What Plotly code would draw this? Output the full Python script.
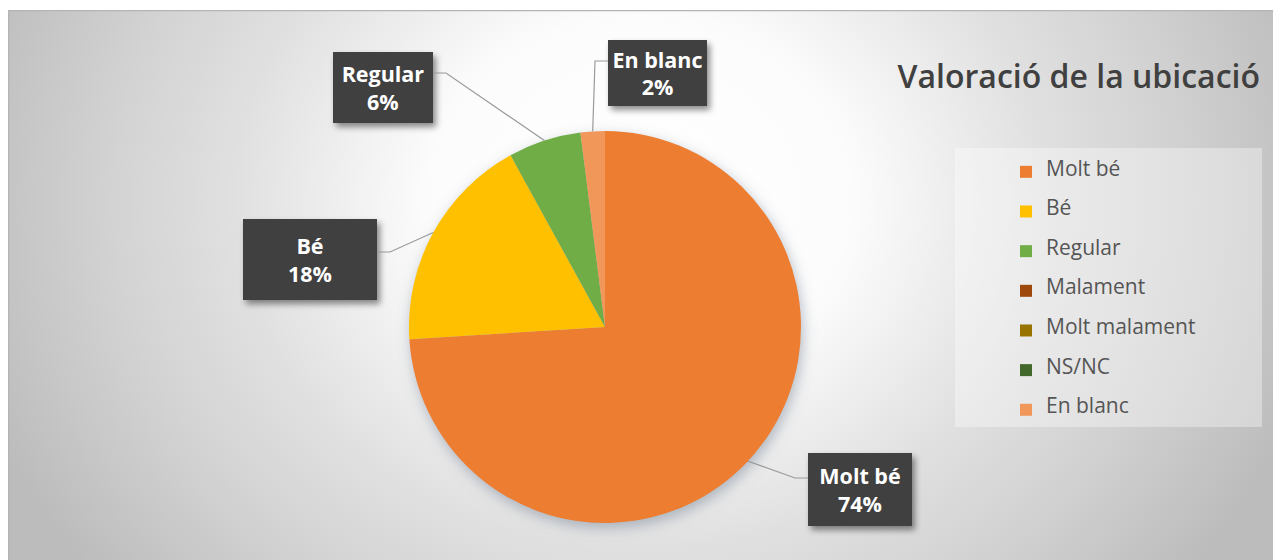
import base64
import math
import plotly.graph_objects as go

# ---------------- data ----------------
categories = ["Molt bé", "Bé", "Regular", "Malament", "Molt malament", "NS/NC", "En blanc"]
values = [74, 18, 6, 0, 0, 0, 2]
colors = ["#ED7D31", "#FFC000", "#70AD47", "#9E480E", "#997300", "#43682B", "#F1975A"]
title_text = "Valoració de la ubicació"

# ---------------- layout constants (screen pixels) ----------------
W, H = 1281, 560
OFF = 8  # page body margin
PIE_CX, PIE_CY, PIE_R = 605, 327, 196
# label boxes: category -> (center x, center y, width, height, side, attach y)
label_boxes = {
    "Molt bé": (860, 489.5, 104, 73, "right", 478),
    "Bé": (310, 259.5, 134, 81, "left", 252),
    "Regular": (383, 87.5, 100, 71, "left", 73),
    "En blanc": (657.5, 73, 99, 66, "right", 61),
}
ELBOW = 13


def fx(x):
    return x - OFF


def fy(y):
    return y - OFF


def px(x):
    return fx(x) / W


def py(y):
    return 1 - fy(y) / H


# ---------------- background (radial gradient + shadows) as SVG ----------------
BG_X0, BG_Y0 = fx(8), fy(10)
BW, BH = W - BG_X0, H - BG_Y0
shadow_rects = ""
for cat, (cx, cy, w, h, side, ay) in label_boxes.items():
    shadow_rects += (
        f'<rect x="{fx(cx) - w / 2 - BG_X0 + 3}" y="{fy(cy) - h / 2 - BG_Y0 + 4}" width="{w}" height="{h}" '
        f'fill="rgba(0,0,0,0.45)" filter="url(#blur3)"/>'
    )
svg = f'''<svg xmlns="http://www.w3.org/2000/svg" width="{BW}" height="{BH}" viewBox="0 0 {BW} {BH}">
<defs>
<radialGradient id="g" gradientUnits="userSpaceOnUse" cx="632" cy="190" r="700"
 gradientTransform="translate(632 190) scale(1 0.86) translate(-632 -190)">
<stop offset="0" stop-color="#ffffff"/>
<stop offset="0.30" stop-color="#fcfcfc"/>
<stop offset="0.58" stop-color="#e0e0e0"/>
<stop offset="0.75" stop-color="#d3d3d3"/>
<stop offset="1" stop-color="#bcbcbc"/>
</radialGradient>
<filter id="blur3" x="-20%" y="-20%" width="140%" height="140%"><feGaussianBlur stdDeviation="3"/></filter>
<filter id="blur6" x="-20%" y="-20%" width="140%" height="140%"><feGaussianBlur stdDeviation="7"/></filter>
</defs>
<rect x="0" y="0" width="{BW}" height="{BH}" fill="url(#g)"/>
<rect x="0.5" y="0.5" width="{BW}" height="{BH}" fill="none" stroke="#b4b4b4" stroke-width="1.5"/>
<circle cx="{fx(PIE_CX) - BG_X0 + 2}" cy="{fy(PIE_CY) - BG_Y0 + 5}" r="{PIE_R}" fill="rgba(110,125,145,0.50)" filter="url(#blur6)"/>
{shadow_rects}
</svg>'''
bg_uri = "data:image/svg+xml;base64," + base64.b64encode(svg.encode("utf-8")).decode("ascii")

# ---------------- figure ----------------
legend_labels = [
    f"<br><span style='font-size:21px'>{c}</span><br>" for c in categories
]

fig = go.Figure()
fig.add_trace(
    go.Pie(
        labels=legend_labels,
        values=values,
        marker=dict(colors=colors, line=dict(width=0)),
        sort=False,
        direction="clockwise",
        rotation=0,
        textinfo="none",
        hoverinfo="skip",
        domain=dict(
            x=[px(PIE_CX - PIE_R), px(PIE_CX + PIE_R)],
            y=[py(PIE_CY + PIE_R), py(PIE_CY - PIE_R)],
        ),
    )
)

# slice mid angles -> leader lines and label boxes
total = sum(values)
cum = 0
shapes = []
annotations = []
for cat, v in zip(categories, values):
    mid = (cum + v / 2) / total
    cum += v
    if cat not in label_boxes:
        continue
    ang = 2 * math.pi * mid
    sx = PIE_CX + PIE_R * math.sin(ang)
    sy = PIE_CY - PIE_R * math.cos(ang)
    cx, cy, w, h, side, ay = label_boxes[cat]
    edge_x = cx + w / 2 if side == "left" else cx - w / 2
    elbow_x = edge_x + ELBOW if side == "left" else edge_x - ELBOW
    path = f"M {px(sx)} {py(sy)} L {px(elbow_x)} {py(ay)} L {px(edge_x)} {py(ay)}"
    shapes.append(
        dict(type="path", xref="paper", yref="paper", path=path,
             line=dict(color="#9a9a9a", width=1.2), layer="above")
    )
    pct = round(v / total * 100)
    annotations.append(
        dict(
            xref="paper", yref="paper", x=px(cx), y=py(cy),
            xanchor="center", yanchor="middle",
            text=f"{cat}<br>{pct}%",
            showarrow=False,
            font=dict(family="Open Sans", size=21.5, color="#ffffff", weight="bold"),
            bgcolor="#404040", borderpad=0, borderwidth=0,
            width=w, height=h, align="center", valign="middle",
        )
    )

# legend background panel
shapes.append(
    dict(type="rect", xref="paper", yref="paper",
         x0=px(955), x1=px(1262), y0=py(427), y1=py(148),
         fillcolor="rgba(255,255,255,0.35)", line=dict(width=0), layer="below")
)

fig.update_layout(
    width=W, height=H,
    margin=dict(l=0, r=0, t=0, b=0),
    paper_bgcolor="#ffffff",
    images=[dict(source=bg_uri, xref="paper", yref="paper",
                 x=BG_X0 / W, y=1 - BG_Y0 / H, sizex=BW / W, sizey=BH / H,
                 xanchor="left", yanchor="top", sizing="stretch", layer="below")],
    title=dict(text=title_text, x=px(1260), xanchor="right", y=py(77), yanchor="middle",
               font=dict(family="Open Sans", size=32, color="#404040", weight=600)),
    showlegend=True,
    legend=dict(
        x=px(1006), xanchor="left", y=py(147), yanchor="top",
        font=dict(family="Open Sans", size=9.4, color="#555555"),
        bgcolor="rgba(0,0,0,0)", itemwidth=30, itemclick=False, itemdoubleclick=False,
    ),
    shapes=shapes,
    annotations=annotations,
)

fig.write_html("out.html")
